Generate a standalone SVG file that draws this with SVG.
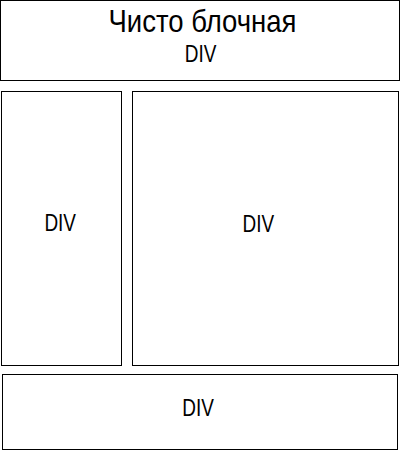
<svg xmlns="http://www.w3.org/2000/svg" width="400" height="450" viewBox="0 0 400 450">
<style>
rect{fill:#fff;stroke:#000;stroke-width:1}
text{font-family:"Liberation Sans",Arial,sans-serif;fill:#000;text-anchor:middle}
.d{font-size:24px}
.t{font-size:32px}
</style>
<rect x="0" y="0" width="400" height="450" style="stroke:none"/>
<g id="header">
<rect x="0.5" y="0.5" width="399" height="80"/>
<text class="t" transform="translate(202.5,32) scale(0.86,1)">Чисто блочная</text>
<text class="d" transform="translate(200.5,62) scale(0.79,1)">DIV</text>
</g>
<g id="left">
<rect x="1.5" y="91.5" width="120" height="274"/>
<text class="d" transform="translate(60.2,230.5) scale(0.79,1)">DIV</text>
</g>
<g id="main">
<rect x="132.5" y="91.5" width="266" height="274"/>
<text class="d" transform="translate(258.3,231.5) scale(0.79,1)">DIV</text>
</g>
<g id="footer">
<rect x="2.5" y="374.5" width="395" height="75"/>
<text class="d" transform="translate(198,415.7) scale(0.79,1)">DIV</text>
</g>
<g id="connectors"/>
</svg>
